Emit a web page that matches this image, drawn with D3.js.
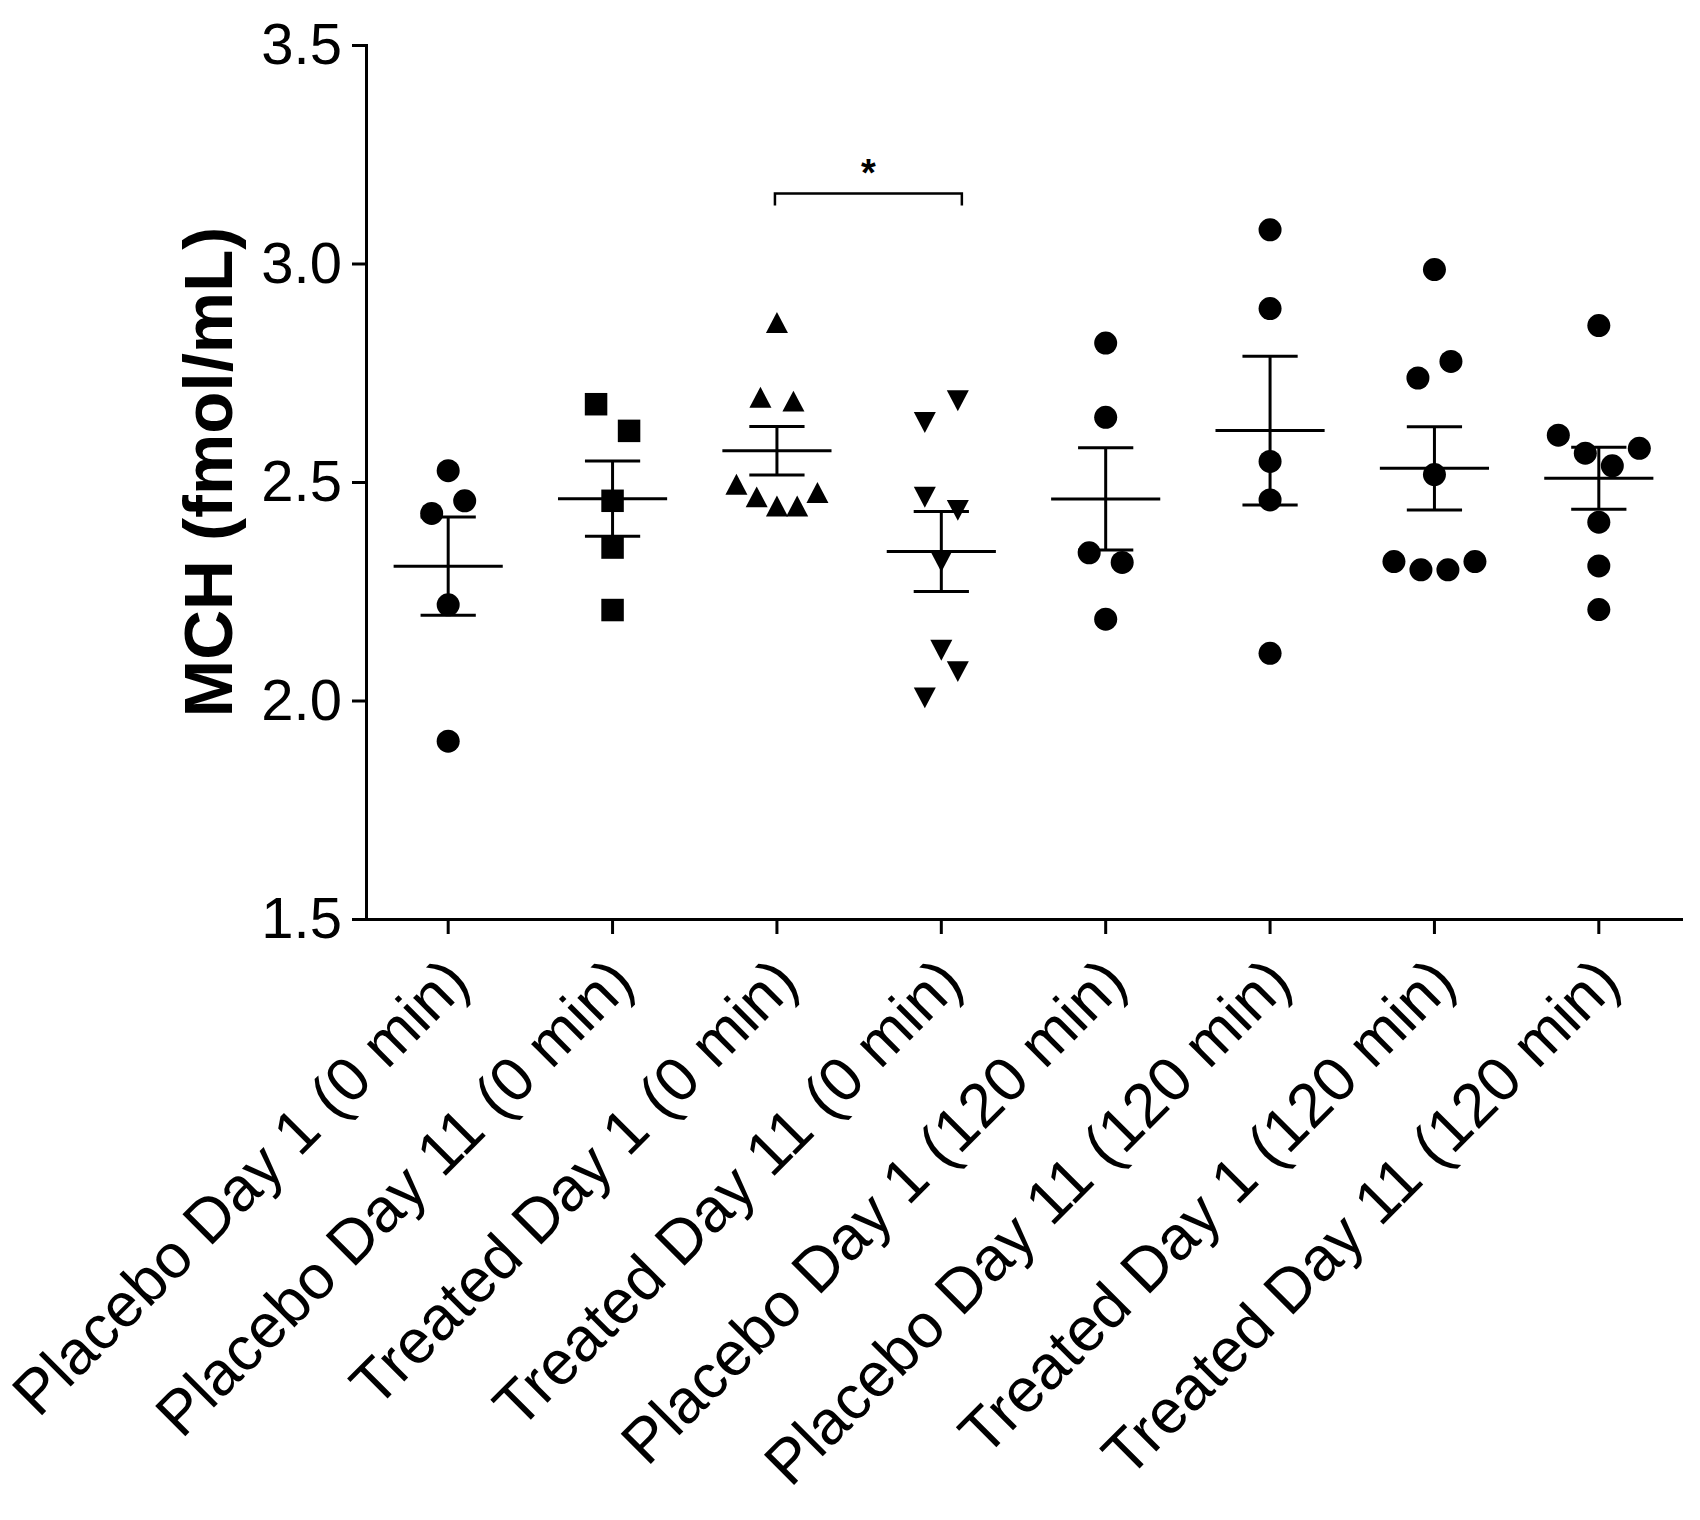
<!DOCTYPE html>
<html>
<head>
<meta charset="utf-8">
<script src="https://cdn.jsdelivr.net/npm/d3@7"></script>
<style>
  body { margin: 0; background: #fff; }
  svg { display: block; background: #fff; }
  text { font-family: "Liberation Sans", Arial, Helvetica, sans-serif; fill: #000; }
</style>
</head>
<body>
<svg id="chart"></svg>
<script>
var width = 1700;
var height = 1520;
var margin = { top: 45, right: 19, bottom: 601, left: 366 };

// categories along the x axis
var categories = [
  "Placebo Day 1 (0 min)",
  "Placebo Day 11 (0 min)",
  "Treated Day 1 (0 min)",
  "Treated Day 11 (0 min)",
  "Placebo Day 1 (120 min)",
  "Placebo Day 11 (120 min)",
  "Treated Day 1 (120 min)",
  "Treated Day 11 (120 min)"
];

// MCH values (fmol/mL), one array per column
var placeboDay1Pre   = [2.526, 2.428, 2.457, 2.219, 1.907];
var placeboDay11Pre  = [2.678, 2.617, 2.457, 2.350, 2.207];
var treatedDay1Pre   = [2.865, 2.694, 2.685, 2.495, 2.466, 2.445, 2.445, 2.476];
var treatedDay11Pre  = [2.636, 2.686, 2.465, 2.435, 2.318, 2.115, 2.006, 2.066];
var placeboDay1Post  = [2.818, 2.648, 2.338, 2.316, 2.186];
var placeboDay11Post = [3.077, 2.897, 2.547, 2.459, 2.108];
var treatedDay1Post  = [2.986, 2.738, 2.776, 2.517, 2.318, 2.299, 2.299, 2.318];
var treatedDay11Post = [2.858, 2.607, 2.566, 2.537, 2.577, 2.408, 2.308, 2.208];

var markerShapes = ["circle", "square", "triangle", "triangleDown", "circle", "circle", "circle", "circle"];

var yTicks = [1.5, 2.0, 2.5, 3.0, 3.5];

// significance bracket between columns 3 and 4
var sigPair = ["Treated Day 1 (0 min)", "Treated Day 11 (0 min)"];
var sigLevel = 3.16;
var sigLabel = "*";

var groups = [placeboDay1Pre, placeboDay11Pre, treatedDay1Pre, treatedDay11Pre,
              placeboDay1Post, placeboDay11Post, treatedDay1Post, treatedDay11Post];

var svg = d3.select("#chart")
            .attr("width", width)
            .attr("height", height);

var xScale = d3.scaleBand()
               .domain(categories)
               .range([margin.left, width - margin.right]);
var yScale = d3.scaleLinear()
               .domain([1.5, 3.5])
               .range([height - margin.bottom, margin.top]);

var bw = xScale.bandwidth();
var dotStep = 33, maxSpread = 81, rowTol = 33;

// triangle symbols centred on their bounding box (Prism style)
var triUp = { draw: function(ctx, size) {
  var w = Math.sqrt(size) * 1.05, h = w * 0.95;
  ctx.moveTo(0, -h / 2); ctx.lineTo(w / 2, h / 2); ctx.lineTo(-w / 2, h / 2); ctx.closePath();
}};
var triDown = { draw: function(ctx, size) {
  var w = Math.sqrt(size) * 1.05, h = w * 0.95;
  ctx.moveTo(0, h / 2); ctx.lineTo(w / 2, -h / 2); ctx.lineTo(-w / 2, -h / 2); ctx.closePath();
}};
var symbolFor = {
  circle:       d3.symbol(d3.symbolCircle, Math.PI * 11.5 * 11.5),
  square:       d3.symbol(d3.symbolSquare, 22.5 * 22.5),
  triangle:     d3.symbol(triUp, 440),
  triangleDown: d3.symbol(triDown, 440)
};

// spread points that would overlap into centred rows
function dodge(values) {
  var order = d3.range(values.length).sort(function(a, b) { return values[a] - values[b] || a - b; });
  var rows = [], row = null;
  order.forEach(function(i) {
    if (!row || yScale(values[row[0]]) - yScale(values[i]) > rowTol) { row = [i]; rows.push(row); }
    else row.push(i);
  });
  var off = values.map(function() { return 0; });
  rows.forEach(function(r) {
    r.sort(d3.ascending);
    var step = r.length > 1 ? Math.min(dotStep, maxSpread / (r.length - 1)) : 0;
    r.forEach(function(i, k) { off[i] = (k - (r.length - 1) / 2) * step; });
  });
  return off;
}

// axes
var yAxis = svg.append("g")
    .attr("transform", "translate(" + margin.left + ",0)")
    .call(d3.axisLeft(yScale).tickValues(yTicks).tickFormat(d3.format(".1f"))
            .tickSize(14).tickSizeOuter(0).tickPadding(10));
yAxis.selectAll("path, line").attr("stroke", "#000").attr("stroke-width", 3);
yAxis.selectAll("text").style("font-size", "58px").attr("fill", "#000");

var xAxis = svg.append("g")
    .attr("transform", "translate(0," + (height - margin.bottom) + ")")
    .call(d3.axisBottom(xScale).tickSize(15).tickSizeOuter(0));
xAxis.selectAll("path, line").attr("stroke", "#000").attr("stroke-width", 3);
xAxis.selectAll("text")
    .style("font-size", "62px")
    .attr("fill", "#000")
    .attr("text-anchor", "end")
    .attr("x", 0).attr("y", 0).attr("dy", 0)
    .attr("transform", "translate(24,66) rotate(-45)");
svg.selectAll(".domain").attr("stroke-linecap", "square");

svg.append("text")
    .attr("transform", "translate(232," + ((margin.top + height - margin.bottom) / 2 - 10) + ") rotate(-90)")
    .attr("text-anchor", "middle")
    .style("font-size", "69px")
    .style("font-weight", "bold")
    .text("MCH (fmol/mL)");

// points, mean and SEM per column
groups.forEach(function(vals, gi) {
  var cx = xScale(categories[gi]) + bw / 2;
  var off = dodge(vals);
  var g = svg.append("g");

  g.selectAll("path.pt")
    .data(vals)
    .enter().append("path")
      .attr("class", "pt")
      .attr("d", symbolFor[markerShapes[gi]])
      .attr("transform", function(d, i) { return "translate(" + (cx + off[i]) + "," + yScale(d) + ")"; })
      .attr("fill", "#000");

  var m = d3.mean(vals);
  var sem = d3.deviation(vals) / Math.sqrt(vals.length);
  var meanHalf = bw * 0.332, capHalf = bw * 0.168;

  g.append("line")
    .attr("x1", cx).attr("x2", cx)
    .attr("y1", yScale(m + sem)).attr("y2", yScale(m - sem));
  g.append("line")
    .attr("x1", cx - meanHalf).attr("x2", cx + meanHalf)
    .attr("y1", yScale(m)).attr("y2", yScale(m));
  [m + sem, m - sem].forEach(function(v) {
    g.append("line")
      .attr("x1", cx - capHalf).attr("x2", cx + capHalf)
      .attr("y1", yScale(v)).attr("y2", yScale(v));
  });
  g.selectAll("line").attr("stroke", "#000").attr("stroke-width", 3);
});

// significance bracket
var bx1 = xScale(sigPair[0]) + bw / 2 - 2;
var bx2 = xScale(sigPair[1]) + bw / 2 + bw * 0.125;
var by = yScale(sigLevel);
svg.append("path")
    .attr("d", d3.line()([[bx1, by + 12], [bx1, by], [bx2, by], [bx2, by + 12]]))
    .attr("fill", "none")
    .attr("stroke", "#000")
    .attr("stroke-width", 2.5);
svg.append("text")
    .attr("x", (bx1 + bx2) / 2)
    .attr("y", by - 8)
    .attr("text-anchor", "middle")
    .style("font-size", "38px")
    .style("font-weight", "bold")
    .text(sigLabel);
</script>
</body>
</html>
